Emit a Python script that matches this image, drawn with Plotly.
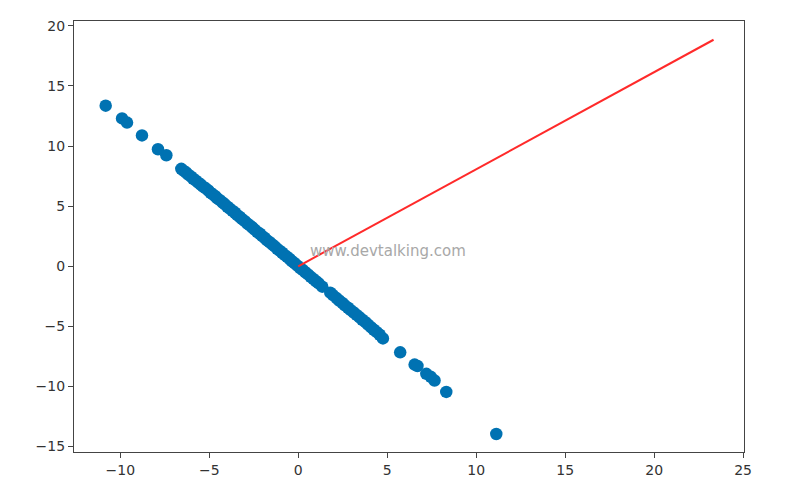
import plotly.graph_objects as go

# Scatter data
pts_x = [-10.82, -9.90, -9.62, -8.78, -7.88, -7.41,
         -6.57, -6.45, -6.30, -6.18, -6.02, -5.90, -5.75, -5.62, -5.48, -5.35,
         -5.20, -5.05, -4.92, -4.80, -4.66, -4.55, -4.40, -4.25, -4.12, -3.98,
         -3.85, -3.70, -3.55, -3.42, -3.28, -3.15, -3.00, -2.86, -2.72, -2.58,
         -2.45, -2.30, -2.15, -2.02, -1.88, -1.75, -1.60, -1.45, -1.32, -1.18,
         -1.05, -0.90, -0.75, -0.62, -0.48, -0.35, -0.20, -0.05, 0.10, 0.25,
         0.40, 0.55, 0.70, 0.85, 1.00, 1.15, 1.35, 1.80, 1.95, 2.15, 2.30,
         2.48, 2.62, 2.80, 2.95, 3.12, 3.28, 3.45, 3.60, 3.78, 3.92, 4.10,
         4.25, 4.42, 4.58, 4.76, 5.73, 6.54, 6.70, 7.20, 7.45, 7.66, 8.32, 11.13]
pts_y = [13.36, 12.30, 11.95, 10.88, 9.73, 9.23,
         8.10, 7.95, 7.80, 7.62, 7.45, 7.28, 7.12, 6.95, 6.80, 6.62,
         6.48, 6.30, 6.10, 5.98, 5.82, 5.65, 5.50, 5.30, 5.15, 4.95,
         4.80, 4.62, 4.45, 4.25, 4.10, 3.92, 3.75, 3.55, 3.40, 3.22,
         3.05, 2.85, 2.70, 2.50, 2.35, 2.15, 2.00, 1.80, 1.65, 1.45,
         1.30, 1.12, 0.92, 0.78, 0.60, 0.42, 0.25, 0.05, -0.15, -0.30,
         -0.50, -0.68, -0.88, -1.05, -1.25, -1.42, -1.70, -2.20, -2.40, -2.65, -2.85,
         -3.05, -3.25, -3.45, -3.65, -3.85, -4.05, -4.25, -4.45, -4.65, -4.85, -5.08,
         -5.28, -5.48, -5.70, -6.00, -7.16, -8.18, -8.30, -8.95, -9.20, -9.50, -10.45, -13.95]

# Direction line (red)
line_x = [0, 23.34]
line_y = [0, 18.84]

x_ticks = [-10, -5, 0, 5, 10, 15, 20, 25]
y_ticks = [-15, -10, -5, 0, 5, 10, 15, 20]

watermark = "www.devtalking.com"

fig = go.Figure()
fig.add_trace(go.Scatter(x=pts_x, y=pts_y, mode="markers",
                         marker=dict(size=12.5, color="#0072b2"),
                         showlegend=False, hoverinfo="skip"))
fig.add_trace(go.Scatter(x=line_x, y=line_y, mode="lines",
                         line=dict(color="#ff2a2a", width=2),
                         showlegend=False, hoverinfo="skip"))

fig.add_annotation(x=5.02, y=1.24, xref="x", yref="y", text=watermark,
                   showarrow=False,
                   font=dict(family="DejaVu Sans", size=15, color="#a8a8a8"))

axis_common = dict(showgrid=False, zeroline=False, showline=True, mirror=True,
                   linecolor="#444444", linewidth=1.2, ticks="outside",
                   ticklen=5, tickcolor="#444444",
                   tickfont=dict(family="DejaVu Sans", size=14, color="#333333"))

fig.update_xaxes(range=[-12.6, 25.05], tickvals=x_ticks, **axis_common)
fig.update_yaxes(range=[-15.45, 20.4], tickvals=y_ticks, **axis_common)

fig.update_layout(width=785, height=504,
                  margin=dict(l=66, r=49, t=10, b=60),
                  plot_bgcolor="white", paper_bgcolor="white")

fig.write_html("out.html")
